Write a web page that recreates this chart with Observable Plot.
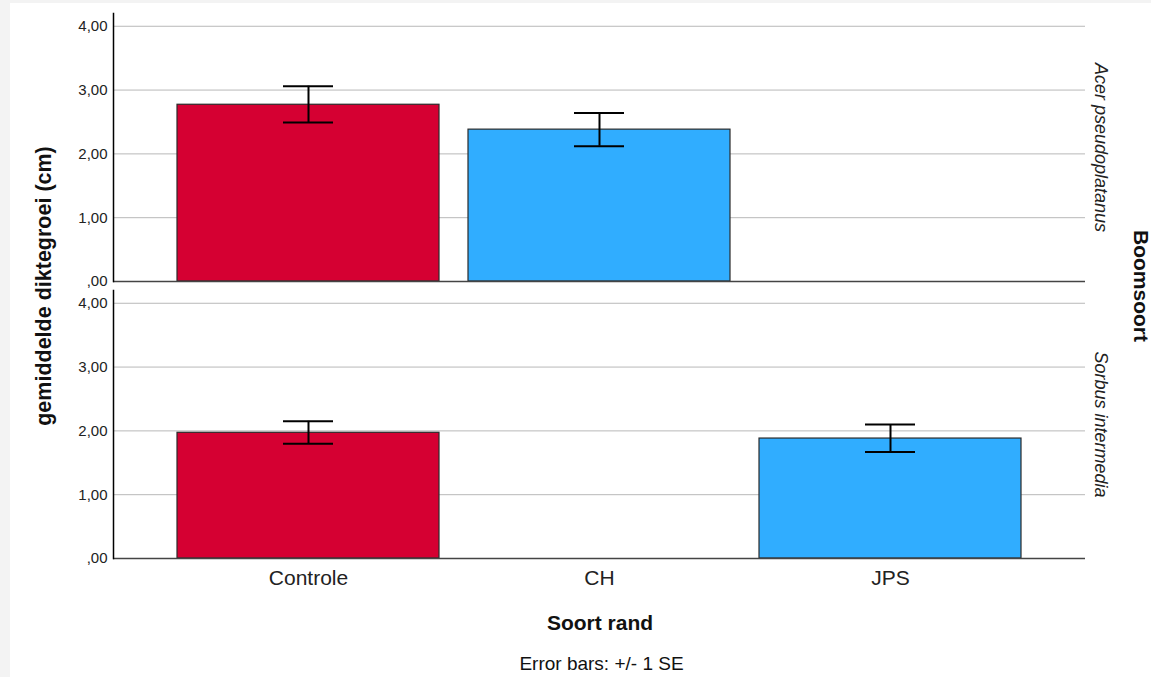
<!DOCTYPE html>
<html><head><meta charset="utf-8">
<script src="https://cdn.jsdelivr.net/npm/d3@7"></script>
<script src="https://cdn.jsdelivr.net/npm/@observablehq/plot@0.6"></script>
<style>
body{margin:0;background:#f3f3f3;font-family:"Liberation Sans",Arial,sans-serif;}
#chart{position:absolute;left:10px;top:3px;width:1141px;height:674px;background:#fff;overflow:hidden;}
#chart svg{position:absolute;left:0;top:0;}
.lbl{position:absolute;white-space:nowrap;color:#111;transform-origin:center center;line-height:1;}
</style></head><body>
<div id="chart"></div>
<script>
const categories = ["Controle", "CH", "JPS"];
const species = ["Acer pseudoplatanus", "Sorbus intermedia"];
const barSpecies = ["Acer pseudoplatanus", "Acer pseudoplatanus", "Sorbus intermedia", "Sorbus intermedia"];
const barCategory = ["Controle", "CH", "Controle", "JPS"];
const meanValues = [2.77, 2.38, 1.97, 1.88];
const seLow = [2.49, 2.12, 1.80, 1.67];
const seHigh = [3.06, 2.64, 2.15, 2.10];
const yTicks = [0, 1, 2, 3, 4];
const yTickLabels = [",00", "1,00", "2,00", "3,00", "4,00"];
const categoryColors = ["#d50032", "#30adff", "#30adff"];
const yTitle = "gemiddelde diktegroei (cm)";
const xTitle = "Soort rand";
const facetTitle = "Boomsoort";
const footnote = "Error bars: +/- 1 SE";

const rows = barSpecies.map((s, i) => ({
  species: s, cat: barCategory[i], mean: meanValues[i], lo: seLow[i], hi: seHigh[i]
}));

const font = '"Liberation Sans", Arial, sans-serif';
const plot = Plot.plot({
  width: 1141, height: 600,
  marginLeft: 103, marginRight: 66, marginTop: 9.5, marginBottom: 45.3,
  style: {fontFamily: font, fontSize: "15px", color: "#222", background: "transparent", overflow: "visible"},
  x: {domain: categories, paddingInner: 0.1, paddingOuter: 0.217, label: null},
  y: {domain: [0, 4.2], label: null},
  fy: {domain: species, paddingInner: 0.0332, paddingOuter: 0, label: null},
  color: {domain: categories, range: categoryColors},
  marks: [
    Plot.gridY(yTicks.slice(1), {stroke: "#b8b8b8", strokeOpacity: 1, strokeWidth: 1}),
    Plot.barY(rows, {x: "cat", y: "mean", fy: "species", fill: "cat", stroke: "#2b2b2b", strokeWidth: 1.2}),
    Plot.ruleY([0], {stroke: "#444", strokeWidth: 1.6}),
    Plot.ruleX(rows, {x: "cat", y1: "lo", y2: "hi", fy: "species", stroke: "#000", strokeWidth: 2}),
    Plot.tickY(rows, {x: "cat", y: "lo", fy: "species", stroke: "#000", strokeWidth: 2, insetLeft: 106, insetRight: 106}),
    Plot.tickY(rows, {x: "cat", y: "hi", fy: "species", stroke: "#000", strokeWidth: 2, insetLeft: 106, insetRight: 106}),
    Plot.frame({anchor: "left", stroke: "#000", strokeWidth: 1.5}),
    Plot.axisY(yTicks, {tickSize: 0, tickPadding: 6,
      tickFormat: d => yTickLabels[yTicks.indexOf(d)], fontSize: 15, label: null}),
    Plot.axisX({tickSize: 0, tickPadding: 12, fontSize: 21, label: null}),
    Plot.axisFy({anchor: "right", tickSize: 0, tickPadding: 9, tickRotate: 90, textAnchor: "middle", lineAnchor: "bottom",
      fontSize: 18, fontStyle: "italic", label: null})
  ]
});
const chart = document.getElementById("chart");
chart.appendChild(plot);

function addLabel(text, cx, cy, size, weight, rot) {
  const d = document.createElement("div");
  d.className = "lbl";
  d.textContent = text;
  d.style.fontSize = size + "px";
  d.style.fontWeight = weight;
  d.style.left = cx + "px";
  d.style.top = cy + "px";
  d.style.transform = "translate(-50%,-50%) rotate(" + rot + "deg)";
  chart.appendChild(d);
}
addLabel(yTitle, 35, 282.5, 21.5, "bold", -90);
addLabel(facetTitle, 1131, 282.5, 21, "bold", 90);
addLabel(xTitle, 590, 619, 21, "bold", 0);
addLabel(footnote, 591.5, 660, 19, "normal", 0);
</script>
</body></html>
